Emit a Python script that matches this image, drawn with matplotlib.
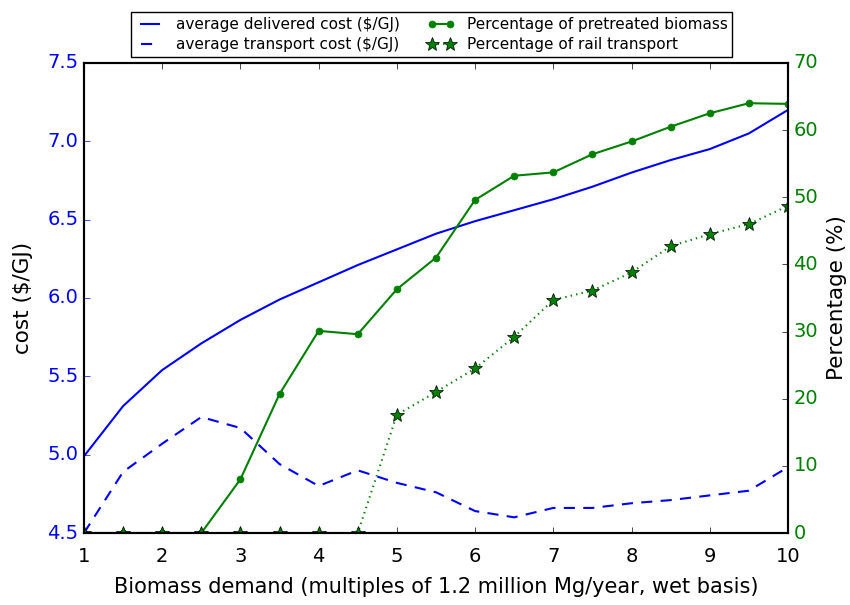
import matplotlib
matplotlib.use('Agg')
import matplotlib.pyplot as plt
import numpy as np

plt.style.use('classic')

# biomass demand (multiples of 1.2 million Mg/year)
demand = np.arange(1, 10.5, 0.5)

# cost ($/GJ)
delivered_cost = [4.99, 5.31, 5.54, 5.71, 5.86, 5.99, 6.10, 6.21, 6.31, 6.41,
                  6.49, 6.56, 6.63, 6.71, 6.80, 6.88, 6.95, 7.05, 7.20]
transport_cost = [4.50, 4.89, 5.07, 5.24, 5.17, 4.94, 4.80, 4.90, 4.82, 4.76,
                  4.64, 4.60, 4.66, 4.66, 4.69, 4.71, 4.74, 4.77, 4.92]

# percentages (%)
pretreated = [0, 0, 0, 0, 8.0, 20.7, 30.1, 29.6, 36.3, 41.0,
              49.6, 53.2, 53.7, 56.4, 58.3, 60.5, 62.5, 64.0, 63.9]
rail = [0, 0, 0, 0, 0, 0, 0, 0, 17.6, 21.0,
        24.5, 29.2, 34.7, 36.1, 38.8, 42.7, 44.5, 46.0, 48.7]

fig = plt.figure(figsize=(8.5, 6.05), dpi=100, facecolor='white')
ax1 = fig.add_axes([0.0988, 0.119, 0.8282, 0.777])
ax2 = ax1.twinx()

l1, = ax1.plot(demand, delivered_cost, 'b-', lw=1.5, label='average delivered cost ($/GJ)')
l2, = ax1.plot(demand, transport_cost, 'b--', lw=1.5, dashes=(8, 6),
               label='average transport cost ($/GJ)')
l3, = ax2.plot(demand, pretreated, 'g-', marker='o', ms=5, mec='g', lw=1.5,
               label='Percentage of pretreated biomass')
l4, = ax2.plot(demand, rail, 'g:', marker='*', ms=10, mec='k', mfc='g', lw=1.5,
               label='Percentage of rail transport')

ax1.set_xlim(1, 10)
ax1.set_ylim(4.5, 7.5)
ax2.set_ylim(0, 70)
ax1.set_xticks(range(1, 11))
ax1.set_yticks(np.arange(4.5, 7.51, 0.5))
ax2.set_yticks(range(0, 71, 10))

ax1.tick_params(axis='both', labelsize=14)
ax1.tick_params(axis='y', colors='b', labelcolor='b')
ax1.tick_params(axis='x', colors='k', pad=10)
ax2.tick_params(axis='y', labelsize=14, labelcolor='g')
for ax in (ax1, ax2):
    for sp in ax.spines.values():
        sp.set_linewidth(1.5)

ax1.set_xlabel('Biomass demand (multiples of 1.2 million Mg/year, wet basis)',
               fontsize=15, labelpad=8)
ax1.set_ylabel('cost ($/GJ)', fontsize=15.5, labelpad=10)
ax2.set_ylabel('Percentage (%)', fontsize=15.5, labelpad=6)

fig.legend([l1, l2, l3, l4], [l.get_label() for l in (l1, l2, l3, l4)],
           loc='upper center', bbox_to_anchor=(0.508, 0.992), ncol=2,
           fontsize=11, handlelength=1.8, numpoints=2, borderpad=0.3,
           labelspacing=0.35, columnspacing=1.8, handletextpad=0.8)

fig.savefig('out.png', dpi=100, facecolor='white')
